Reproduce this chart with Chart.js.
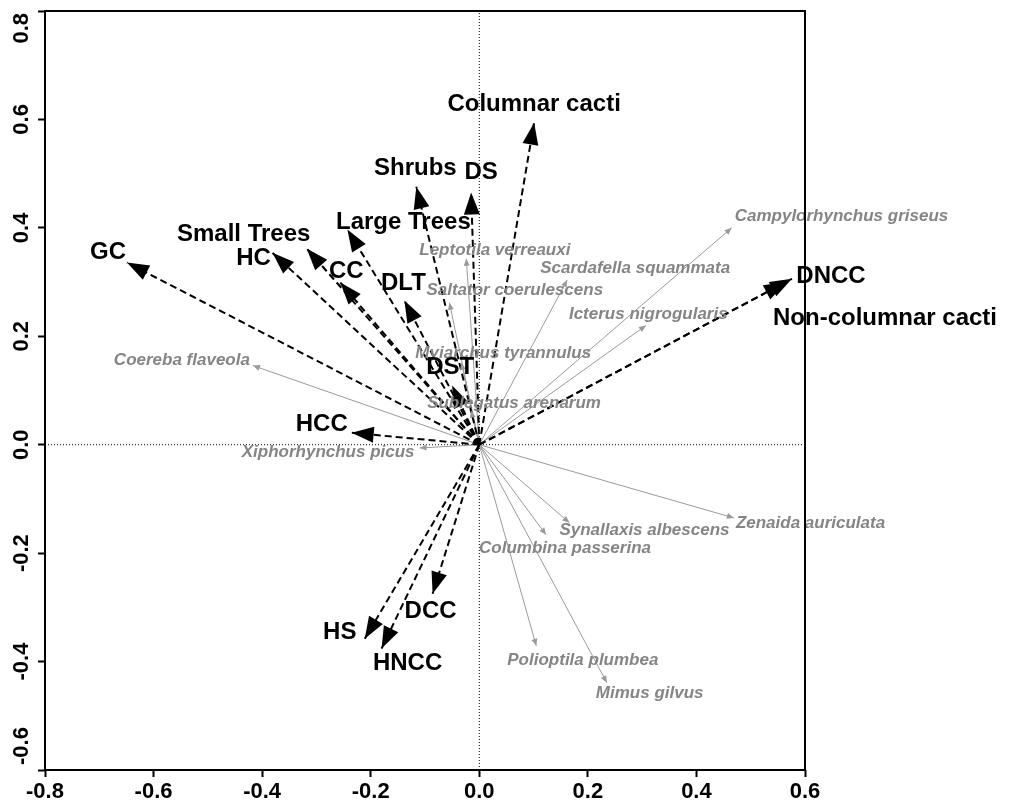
<!DOCTYPE html>
<html>
<head>
<meta charset="utf-8">
<script src="https://cdn.jsdelivr.net/npm/chart.js@4.4.1/dist/chart.umd.min.js"></script>
<style>
  html, body { margin: 0; padding: 0; background: #fff; }
  #grafico { display: block; }
</style>
</head>
<body>
<canvas id="grafico" width="1009" height="809"></canvas>
<script>
// variables ambientales (flechas negras discontinuas)
const envNames = ["GC", "HC", "Small Trees", "CC", "Large Trees", "Shrubs", "DS", "Columnar cacti",
  "DLT", "DST", "HCC", "HS", "HNCC", "DCC", "Non-columnar cacti", "DNCC"];
const envX = [-0.649, -0.381, -0.318, -0.256, -0.243, -0.116, -0.015, 0.101,
  -0.138, -0.050, -0.235, -0.211, -0.180, -0.086, 0.565, 0.576];
const envY = [0.336, 0.354, 0.362, 0.299, 0.397, 0.476, 0.465, 0.594,
  0.266, 0.109, 0.022, -0.358, -0.376, -0.275, 0.300, 0.306];

// especies (flechas grises)
const sppNames = ["Campylorhynchus griseus", "Scardafella squammata", "Icterus nigrogularis",
  "Leptotila verreauxi", "Saltator coerulescens", "Myiarchus tyrannulus", "Sublegatus arenarum",
  "Coereba flaveola", "Xiphorhynchus picus", "Zenaida auriculata", "Synallaxis albescens",
  "Columbina passerina", "Polioptila plumbea", "Mimus gilvus"];
const sppX = [0.465, 0.162, 0.307, -0.024, -0.055, -0.033, -0.015,
  -0.417, -0.110, 0.469, 0.166, 0.123, 0.105, 0.235];
const sppY = [0.400, 0.304, 0.220, 0.343, 0.262, 0.151, 0.063,
  0.146, -0.006, -0.135, -0.144, -0.166, -0.371, -0.439];

const xTicks = [-0.8, -0.6, -0.4, -0.2, 0.0, 0.2, 0.4, 0.6];
const yTicks = [-0.6, -0.4, -0.2, 0.0, 0.2, 0.4, 0.6, 0.8];

// posicion de las etiquetas: desplazamiento en pixeles desde la punta
const envLabelPos = [[-19, -10], [-19, 6], [-63, -14], [6, -11], [56, -7], [-1, -18], [10, -20], [0, -18],
  [-1, -17], [-2, -18], [-30, -8], [-25, -6], [26, 15], [-2, 18], [99, 36], [39, -2]];
const sppLabelPos = [[3, -12, "left"], [-27, -12, "left"], [-77, -11, "left"], [-47, -8, "left"],
  [-23, -12, "left"], [-46, -10, "left"], [-44, -7, "left"], [-3, -5, "right"], [-5, 4, "right"],
  [2, 5, "left"], [-10, 8, "left"], [-67, 14, "left"], [-29, 14, "left"], [-11, 11, "left"]];

const FUENTE = "'Liberation Sans', Arial, sans-serif";
const GRIS_LINEA = "#9a9a9a";
const GRIS_TEXTO = "#858585";

const datasets = [];
sppNames.forEach((n, i) => {
  datasets.push({
    label: n,
    data: [{ x: 0, y: 0 }, { x: sppX[i], y: sppY[i] }],
    showLine: true, borderColor: GRIS_LINEA, borderWidth: 1, pointRadius: 0,
    arrow: { len: 7, half: 3 }, etiqueta: { text: n, pos: sppLabelPos[i], font: "italic bold 17px " + FUENTE, color: GRIS_TEXTO },
    order: 2
  });
});
envNames.forEach((n, i) => {
  datasets.push({
    label: n,
    data: [{ x: 0, y: 0 }, { x: envX[i], y: envY[i] }],
    showLine: true, borderColor: "#000", borderWidth: 2, borderDash: [7, 4], pointRadius: 0,
    arrow: { len: 22, half: 8 }, etiqueta: { text: n, pos: envLabelPos[i], font: "bold 24px " + FUENTE, color: "#000", center: true },
    order: 1
  });
});
// lineas de referencia en cero
datasets.push({
  label: "x0", data: [{ x: xTicks[0], y: 0 }, { x: xTicks[xTicks.length - 1], y: 0 }],
  showLine: true, borderColor: "#000", borderWidth: 1, borderDash: [1, 2], pointRadius: 0, order: 10
});
datasets.push({
  label: "y0", data: [{ x: 0, y: yTicks[0] }, { x: 0, y: yTicks[yTicks.length - 1] }],
  showLine: true, borderColor: "#000", borderWidth: 1, borderDash: [1, 2], pointRadius: 0, order: 10
});

const flechas = {
  id: "flechas",
  afterDatasetsDraw(chart) {
    const ctx = chart.ctx;
    const dibujar = (soloEtiquetas) => {
      chart.data.datasets.forEach((ds, i) => {
        if (!ds.arrow) return;
        const pts = chart.getDatasetMeta(i).data;
        const a = pts[0], b = pts[pts.length - 1];
        ctx.save();
        if (!soloEtiquetas) {
          const ang = Math.atan2(b.y - a.y, b.x - a.x);
          const c = Math.cos(ang), s = Math.sin(ang);
          const L = ds.arrow.len, H = ds.arrow.half;
          ctx.fillStyle = ds.borderColor;
          ctx.beginPath();
          ctx.moveTo(b.x, b.y);
          ctx.lineTo(b.x - L * c + H * s, b.y - L * s - H * c);
          ctx.lineTo(b.x - L * c - H * s, b.y - L * s + H * c);
          ctx.closePath();
          ctx.fill();
        } else {
          const e = ds.etiqueta;
          ctx.font = e.font;
          ctx.fillStyle = e.color;
          ctx.textBaseline = "middle";
          ctx.textAlign = e.center ? "center" : e.pos[2];
          ctx.fillText(e.text, b.x + e.pos[0], b.y + e.pos[1]);
        }
        ctx.restore();
      });
    };
    dibujar(false);
    dibujar(true);
  },
  afterDraw(chart) {
    const ctx = chart.ctx;
    const area = chart.chartArea;
    ctx.save();
    ctx.strokeStyle = "#000";
    ctx.lineWidth = 2;
    ctx.strokeRect(area.left, area.top, area.right - area.left, area.bottom - area.top);
    // etiquetas del eje y, giradas
    const y = chart.scales.y;
    ctx.font = "bold 22px " + FUENTE;
    ctx.fillStyle = "#000";
    ctx.textAlign = "center";
    ctx.textBaseline = "middle";
    yTicks.forEach(v => {
      const txt = v.toFixed(1);
      const w = ctx.measureText(txt).width;
      let py = y.getPixelForValue(v);
      py = Math.min(Math.max(py, area.top + w / 2 + 2), area.bottom - w / 2 - 5);
      ctx.save();
      ctx.translate(22, py);
      ctx.rotate(-Math.PI / 2);
      ctx.fillText(txt, 0, 0);
      ctx.restore();
    });
    ctx.restore();
  }
};

const grafico = document.getElementById("grafico");
new Chart(grafico, {
  type: "scatter",
  data: { datasets },
  options: {
    responsive: false,
    animation: false,
    layout: { padding: { top: 11, right: 204, left: 0, bottom: 0 } },
    plugins: { legend: { display: false }, tooltip: { enabled: false } },
    scales: {
      x: {
        type: "linear", min: xTicks[0], max: xTicks[xTicks.length - 1],
        afterFit: s => { s.height = 39; },
        afterBuildTicks: s => { s.ticks = xTicks.map(v => ({ value: v })); },
        border: { display: false },
        grid: { drawOnChartArea: false, drawTicks: true, tickLength: 7, tickWidth: 2, tickColor: "#000" },
        ticks: { color: "#000", padding: 2, font: { family: FUENTE, size: 22, weight: "bold" }, callback: v => v.toFixed(1) }
      },
      y: {
        type: "linear", min: yTicks[0], max: yTicks[yTicks.length - 1],
        afterFit: s => { s.width = 45; },
        afterBuildTicks: s => { s.ticks = yTicks.map(v => ({ value: v })); },
        border: { display: false },
        grid: { drawOnChartArea: false, drawTicks: true, tickLength: 7, tickWidth: 2, tickColor: "#000" },
        ticks: { color: "rgba(0,0,0,0)", callback: v => v.toFixed(1) }
      }
    }
  },
  plugins: [flechas]
});
</script>
</body>
</html>
